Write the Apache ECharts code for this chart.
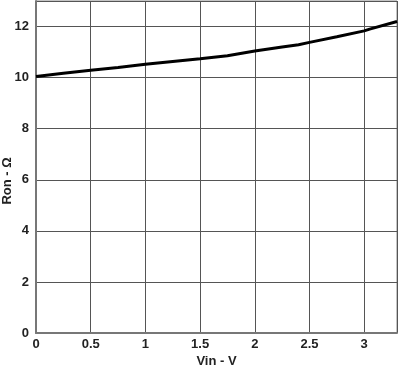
<!DOCTYPE html>
<html><head><meta charset="utf-8">
<script src="https://cdn.jsdelivr.net/npm/echarts@6/dist/echarts.min.js"></script>
<style>html,body{margin:0;padding:0;background:#fff}#c{width:399px;height:366px}</style>
</head><body><div id="c"></div>
<script>
const vin = [0, 0.25, 0.5, 0.75, 1.0, 1.25, 1.5, 1.75, 2.0, 2.25, 2.4, 2.5, 2.75, 3.0, 3.05, 3.3];
const ron = [10.04, 10.17, 10.29, 10.40, 10.52, 10.63, 10.74, 10.86, 11.04, 11.2, 11.29, 11.38, 11.6, 11.83, 11.9, 12.2];
const xTicks = [0, 0.5, 1, 1.5, 2, 2.5, 3];
const yTicks = [0, 2, 4, 6, 8, 10, 12];

const chart = echarts.init(document.getElementById('c'), null, {renderer: 'canvas'});
const txt = {color: '#222', fontFamily: 'Liberation Sans, Arial, sans-serif', fontWeight: 'bold', fontSize: 13};
chart.setOption({
  animation: false,
  grid: {left: 36, right: 2, top: 1, bottom: 33, containLabel: false, outerBoundsMode: 'none',
    show: true, borderColor: '#888', borderWidth: 1},
  xAxis: {
    type: 'value', min: 0, max: 3.3, interval: 0.5,
    name: 'Vin - V', nameLocation: 'middle', nameGap: 22, nameMoveOverlap: false,
    nameTextStyle: txt,
    axisLine: {show: true, lineStyle: {color: '#777', width: 2}},
    axisTick: {show: false},
    axisLabel: Object.assign({margin: 5, showMaxLabel: false,
      formatter: v => xTicks.includes(+v.toFixed(2)) ? String(+v.toFixed(2)) : ''}, txt),
    splitLine: {show: true, lineStyle: {color: '#555', width: 1}}
  },
  yAxis: {
    type: 'value', min: 0, max: 13, interval: 2,
    name: 'Ron - Ω', nameLocation: 'middle', nameGap: 22, nameMoveOverlap: false,
    nameTextStyle: Object.assign({padding: [0, 28, 0, 0]}, txt),
    axisLine: {show: true, lineStyle: {color: '#777', width: 2}},
    axisTick: {show: false},
    axisLabel: Object.assign({margin: 7, showMaxLabel: false,
      formatter: v => yTicks.includes(v) ? String(v) : ''}, txt),
    splitLine: {show: true, lineStyle: {color: '#555', width: 1}}
  },
  series: [{
    type: 'line', data: vin.map((x, i) => [x, ron[i]]),
    showSymbol: false, smooth: false,
    lineStyle: {color: '#000', width: 3}
  }]
});
</script></body></html>
